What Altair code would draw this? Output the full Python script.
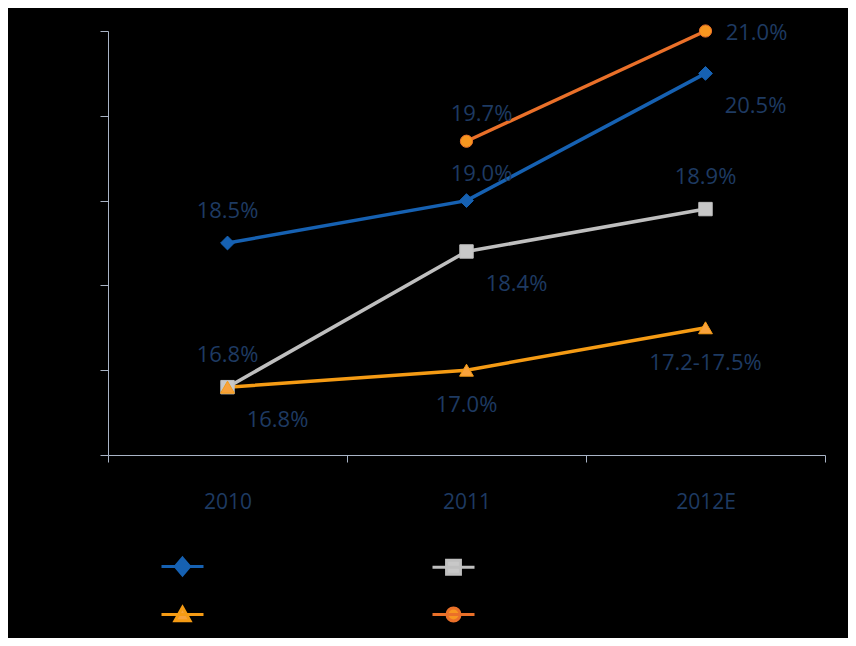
import altair as alt
import pandas as pd

# ---------------- data ----------------
years = ["2010", "2011", "2012E"]
series = ["Series 1", "Series 2", "Series 3", "Series 4"]

values_s1 = [18.5, 19.0, 20.5]
values_s2 = [16.8, 18.4, 18.9]
values_s3 = [16.8, 17.0, 17.5]
values_s4 = [None, 19.7, 21.0]

labels_s1 = ["18.5%", "19.0%", "20.5%"]
labels_s2 = ["16.8%", "18.4%", "18.9%"]
labels_s3 = ["16.8%", "17.0%", "17.2-17.5%"]
labels_s4 = [None, "19.7%", "21.0%"]

# where each data label sits relative to its point
place_s1 = ["above", "above_right", "below_right"]
place_s2 = ["above", "below_right", "above"]
place_s3 = ["below_right", "below", "below"]
place_s4 = [None, "above_right", "right"]

# legend reading order (filled column by column: col 1 = S1, S3; col 2 = S2, S4)
legend_order = [0, 2, 1, 3]

# ---------------- styles ----------------
line_colors = ["#1661B2", "#BFBFBF", "#F59B14", "#EA7029"]
marker_colors = ["#1661B2", "#C8C8C8", "#F8A23C", "#F7961F"]
shapes = ["diamond", "square", "triangle-up", "circle"]
marker_sizes = [190, 180, 190, 150]
legend_paths = [
    "M-1,0H1M0,-0.4L0.34,0L0,0.4L-0.34,0Z",
    "M-1,0H1M-0.33,-0.33H0.33V0.33H-0.33Z",
    "M-1,0H1M0,-0.34L0.36,0.3H-0.36Z",
    "M-1,0H1M-0.31,0A0.31,0.31 0 1,0 0.31,0A0.31,0.31 0 1,0 -0.31,0Z",
]
label_color = "#1E3A62"
axis_color = "#A9B4C6"
font = "Open Sans"

rows = []
for name, vals, labs, plcs in zip(
    series,
    [values_s1, values_s2, values_s3, values_s4],
    [labels_s1, labels_s2, labels_s3, labels_s4],
    [place_s1, place_s2, place_s3, place_s4],
):
    for y, v, l, p in zip(years, vals, labs, plcs):
        if v is None:
            continue
        rows.append({"year": y, "series": name, "value": v, "label": l, "place": p})
df = pd.DataFrame(rows)


def ternary(options):
    expr = "'" + options[-1] + "'"
    for s, o in reversed(list(zip(series[:-1], options[:-1]))):
        expr = "datum.value === '" + s + "' ? '" + o + "' : " + expr
    return expr


legend = alt.Legend(
    title=None,
    orient="none",
    legendX=52,
    legendY=513,
    columns=2,
    columnPadding=166,
    rowPadding=11,
    padding=0,
    symbolSize=1764,
    symbolStrokeWidth=3,
    symbolOpacity=1,
    symbolType={"expr": ternary(legend_paths)},
    labelColor="black",
    labelFontSize=14,
    labelFont=font,
    labelOffset=4,
)

x_enc = alt.X(
    "year:N",
    sort=years,
    scale=alt.Scale(type="band", domain=years, paddingInner=0, paddingOuter=0),
    bandPosition=0.5,
    axis=alt.Axis(
        title=None,
        labelAngle=0,
        tickBand="extent",
        tickSize=7,
        labelPadding=29,
        labelFont=font,
        labelFontSize=21,
        labelColor=label_color,
    ),
)
y_enc = alt.Y(
    "value:Q",
    scale=alt.Scale(domain=[16, 21], nice=False, zero=False),
    axis=alt.Axis(title=None, labels=False, values=[16, 17, 18, 19, 20, 21], grid=False, tickSize=8),
)

base = alt.Chart(df).encode(x=x_enc, y=y_enc)

leg_domain = [series[i] for i in legend_order]
# layer that only carries the legend (its own points have zero size)
legend_layer = base.mark_point(filled=True, size=0, strokeWidth=3, opacity=1).encode(
    fill=alt.Fill(
        "series:N",
        scale=alt.Scale(domain=leg_domain, range=[marker_colors[i] for i in legend_order]),
        legend=legend,
    ),
    stroke=alt.Stroke(
        "series:N",
        scale=alt.Scale(domain=leg_domain, range=[line_colors[i] for i in legend_order]),
        legend=legend,
    ),
)

line_layers = []
point_layers = []
for s, lc, mc, shp, sz in zip(series, line_colors, marker_colors, shapes, marker_sizes):
    sub = base.transform_filter(alt.datum.series == s)
    line_layers.append(sub.mark_line(strokeWidth=3.5, color=lc))
    point_layers.append(
        sub.mark_point(filled=True, opacity=1, shape=shp, size=sz, fill=mc, stroke=lc, strokeWidth=1)
    )

offsets = {
    "above": (0, -32),
    "above_right": (15, -27),
    "right": (51, 2),
    "below_right": (50, 33),
    "below": (0, 35),
}
texts = []
for p, (dx, dy) in offsets.items():
    texts.append(
        base.transform_filter(alt.datum.place == p)
        .mark_text(
            dx=dx,
            dy=dy,
            align="center",
            baseline="middle",
            font=font,
            fontSize=22,
            color=label_color,
        )
        .encode(text="label:N")
    )

chart = (
    alt.layer(legend_layer, *line_layers, *point_layers, *texts)
    .properties(
        width=717,
        height=424,
        autosize=alt.AutoSizeParams(type="none"),
        padding={"left": 100, "top": 23, "right": 23, "bottom": 183},
        background="black",
    )
    .configure_view(stroke=None)
    .configure_axis(domainColor=axis_color, tickColor=axis_color, domainWidth=1, tickWidth=1)
)

chart.save("out.html", embed_options={"renderer": "svg", "actions": False})
